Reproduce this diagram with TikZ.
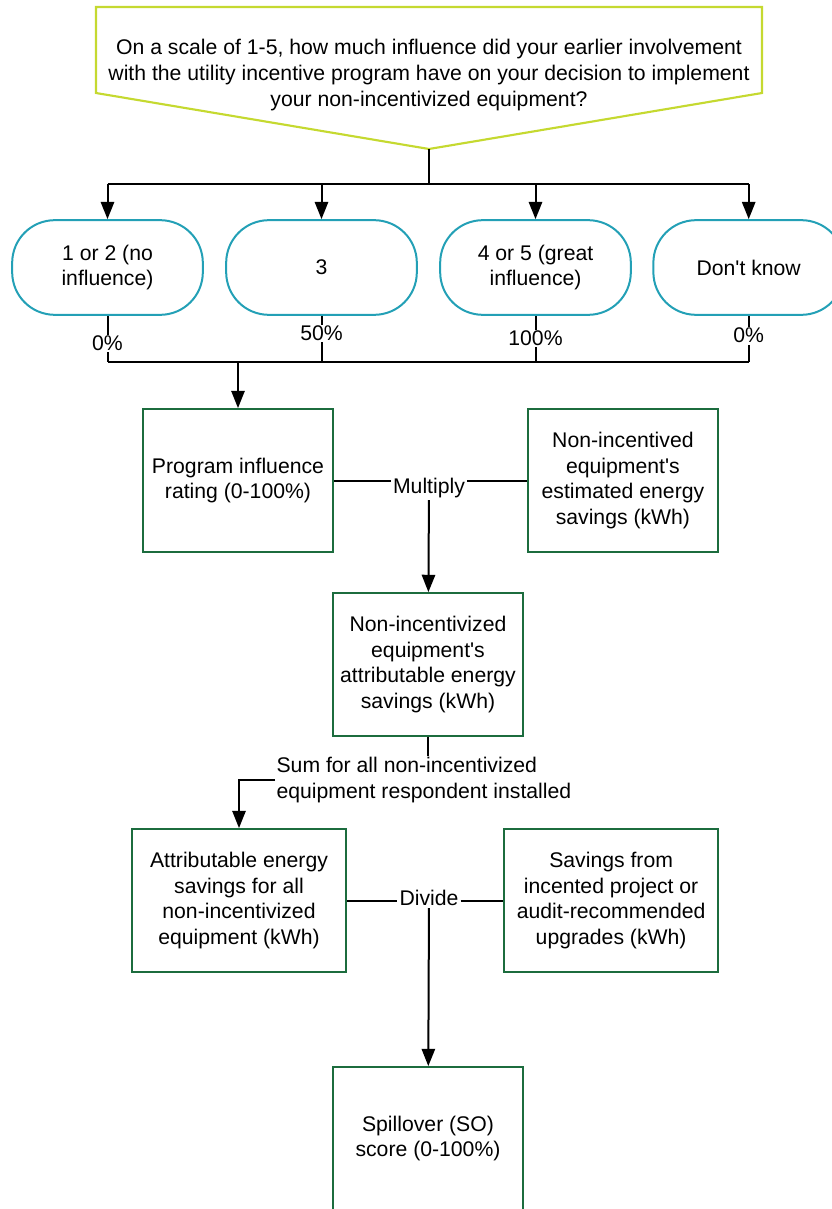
\documentclass[tikz,border=0pt]{standalone}
\usepackage{fontspec}
\setmainfont{Liberation Sans}
\usepackage{xcolor}
\usepackage{tikz}
\usetikzlibrary{arrows.meta, positioning, calc}
\definecolor{questlime}{HTML}{C5D930}
\definecolor{choiceteal}{HTML}{23A0B6}
\definecolor{calcgreen}{HTML}{1C6C3E}
\tikzstyle{questline} = [draw=questlime, line width=1.6pt, line join=miter]
\tikzstyle{questnode} = [rectangle, align=center, inner sep=0pt]
\tikzstyle{choicenode} = [draw=choiceteal, rectangle, rounded corners=32pt, minimum width=143pt, minimum height=71pt, align=center, line width=1.5pt]
\tikzstyle{calcnode} = [draw=calcgreen, rectangle, minimum width=142.5pt, minimum height=107pt, align=center, line width=1.6pt]
\tikzstyle{widenode} = [calcnode, minimum width=160.5pt]
\tikzstyle{pctlabel} = [fill=white, inner sep=1pt]
\tikzstyle{oplabel} = [inner sep=1.5pt]
\tikzstyle{conn} = [line width=1.5pt, color=black]
\tikzstyle{arrw} = [conn, -{Triangle[length=13pt, width=10pt]}]

\begin{document}
\begin{tikzpicture}[x=0.75pt, y=-0.75pt, font=\fontsize{15.9}{19.2}\selectfont]
    \useasboundingbox (0,0) rectangle (831,1209);

    % Question
    \node (quest) [questnode] at (429,75) {On a scale of 1-5, how much influence did your earlier involvement\\with the utility incentive program have on your decision to implement\\your non-incentivized equipment?};
    \draw [questline] (96,7) -- (762,7) -- (762,93) -- (429,149) -- (96,93) -- cycle;
    \coordinate (qtip) at (429,149);
    \coordinate (split) at (429,184);

    % Answers
    \node (ans1) [choicenode] at (107.5,267.5) {1 or 2 (no\\influence)};
    \node (ans2) [choicenode, right=16pt of ans1] {3};
    \node (ans3) [choicenode, right=16pt of ans2] {4 or 5 (great\\influence)};
    \node (ans4) [choicenode, right=15.4pt of ans3] {Don\textquotesingle t know};

    \draw [conn] (qtip) -- (split);
    \draw [conn] (ans1 |- split) -- (ans4 |- split);
    \foreach \i in {1,...,4}
        \draw [arrw] (ans\i |- split) -- (ans\i);

    % Percentages
    \coordinate (bus1) at (107.5,362);
    \draw [conn] (ans1) -- node[pctlabel, pos=0.6] {0\%} (ans1 |- bus1);
    \draw [conn] (ans2) -- node[pctlabel, pos=0.38] {50\%} (ans2 |- bus1);
    \draw [conn] (ans3) -- node[pctlabel, pos=0.49] {100\%} (ans3 |- bus1);
    \draw [conn] (ans4) -- node[pctlabel, pos=0.43] {0\%} (ans4 |- bus1);
    \draw [conn] (bus1) -- (ans4 |- bus1);

    % Multiply
    \node (rating) [calcnode] at (238,480.5) {Program influence\\rating (0-100\%)};
    \node (estsav) [calcnode, right=144.6pt of rating] {Non-incentived\\equipment\textquotesingle s\\estimated energy\\savings (kWh)};
    \node (mult) [oplabel] at (429,488) {Multiply};
    \draw [arrw] (rating |- bus1) -- (rating);
    \draw [conn] (rating.east) -- (rating.east -| mult.west);
    \draw [conn] (estsav.west -| mult.east) -- (estsav.west);

    \node (attrsav) [calcnode] at (428,664.5) {Non-incentivized\\equipment\textquotesingle s\\attributable energy\\savings (kWh)};
    \draw [arrw] (mult) -- (attrsav);

    % Sum
    \node (sumlbl) [oplabel, anchor=west, align=left, inner sep=1pt] at (275,780) {Sum for all non-incentivized\\equipment respondent installed};
    \node (allsav) [widenode] at (239,900.5) {Attributable energy\\savings for all\\non-incentivized\\equipment (kWh)};
    \node (incsav) [widenode, right=117pt of allsav] {Savings from\\incented project or\\audit-recommended\\upgrades (kWh)};
    \draw [conn] (attrsav) -- (attrsav |- sumlbl.north);
    \draw [arrw] (sumlbl.west) -| (allsav);

    % Divide
    \node (divd) [oplabel] at (429,898) {Divide};
    \draw [conn] (allsav.east) -- (allsav.east -| divd.west);
    \draw [conn] (incsav.west -| divd.east) -- (incsav.west);

    \node (score) [calcnode] at (428,1138.5) {Spillover (SO)\\score (0-100\%)};
    \draw [arrw] (divd) -- (score);
\end{tikzpicture}
\end{document}
